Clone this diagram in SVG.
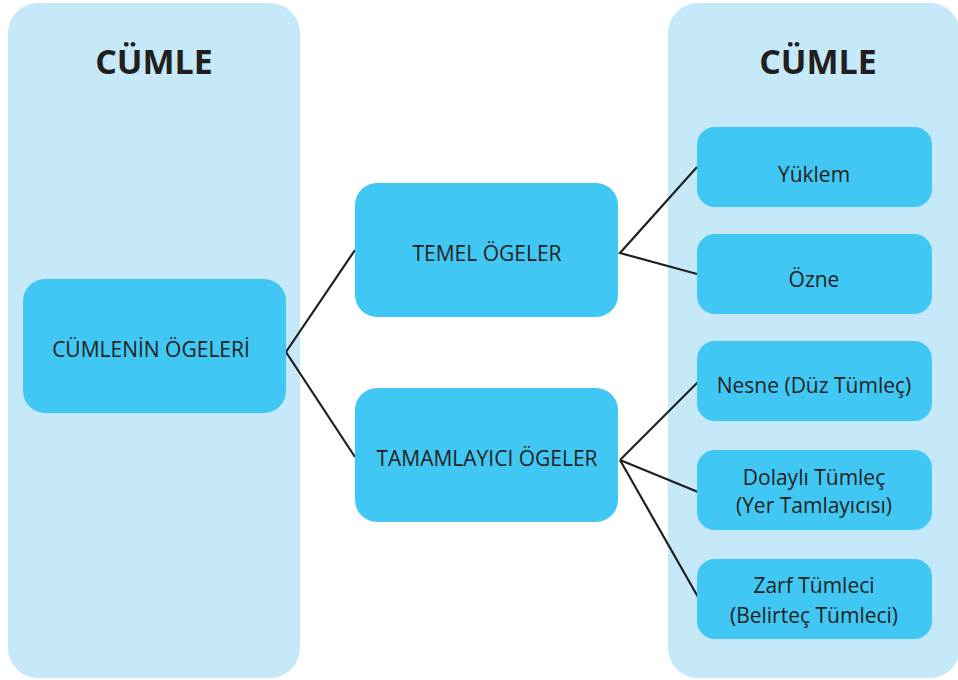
<svg xmlns="http://www.w3.org/2000/svg" width="958" height="680" viewBox="0 0 958 680">
<style>
.panel{fill:#c5e9f9}
.box{fill:#41c7f4}
.t{font-family:"Open Sans","Noto Sans",sans-serif;fill:#231f20;text-anchor:middle}
.title{font-size:34px;font-weight:bold}
.lbl{font-size:21px}
.conn{stroke:#231f20;stroke-width:2.2;fill:none}
</style>
<rect width="958" height="680" fill="#ffffff"/>
<g id="panel-left"><rect class="panel" x="8" y="3" width="292" height="675" rx="30"/><text class="t title" x="154" y="74">CÜMLE</text></g>
<g id="panel-right"><rect class="panel" x="668" y="3" width="292" height="675" rx="30"/><text class="t title" x="818" y="74">CÜMLE</text></g>
<g id="connectors">
<polyline class="conn" points="355,250 286,352 355,457"/>
<polyline class="conn" points="697,167 620,253 697,274"/>
<line class="conn" x1="620" y1="460" x2="698" y2="382"/>
<line class="conn" x1="620" y1="460" x2="698" y2="492"/>
<line class="conn" x1="620" y1="460" x2="698" y2="597"/>
</g>
<g id="n-cumlenin"><rect class="box" x="23" y="279" width="263" height="134" rx="22"/><text class="t lbl" x="151" y="357">CÜMLENİN ÖGELERİ</text></g>
<g id="n-temel"><rect class="box" x="355" y="183" width="263" height="134" rx="22"/><text class="t lbl" x="487" y="261">TEMEL ÖGELER</text></g>
<g id="n-tamamlayici"><rect class="box" x="355" y="388" width="263" height="134" rx="22"/><text class="t lbl" x="487" y="466">TAMAMLAYICI ÖGELER</text></g>
<g id="n-yuklem"><rect class="box" x="697" y="127" width="235" height="80" rx="18"/><text class="t lbl" x="814" y="182">Yüklem</text></g>
<g id="n-ozne"><rect class="box" x="697" y="234" width="235" height="80" rx="18"/><text class="t lbl" x="814" y="287">Özne</text></g>
<g id="n-nesne"><rect class="box" x="697" y="341" width="235" height="80" rx="18"/><text class="t lbl" x="814" y="393">Nesne (Düz Tümleç)</text></g>
<g id="n-dolayli"><rect class="box" x="697" y="450" width="235" height="80" rx="18"/><text class="t lbl" x="814" y="485">Dolaylı Tümleç</text><text class="t lbl" x="814" y="513">(Yer Tamlayıcısı)</text></g>
<g id="n-zarf"><rect class="box" x="697" y="559" width="235" height="80" rx="18"/><text class="t lbl" x="814" y="593">Zarf Tümleci</text><text class="t lbl" x="814" y="623">(Belirteç Tümleci)</text></g>
</svg>
